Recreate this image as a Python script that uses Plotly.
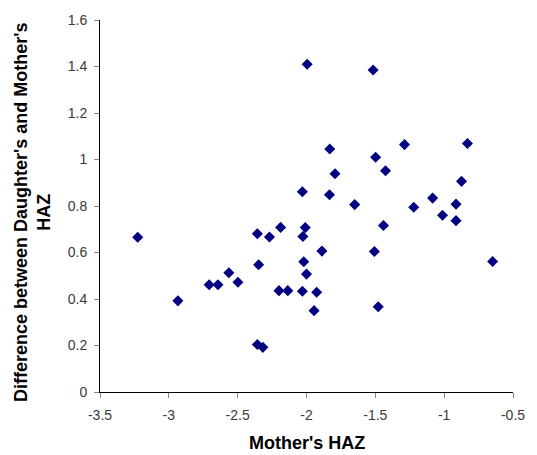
import plotly.graph_objects as go

mother_haz = [-3.226, -2.934, -2.707, -2.643, -2.564, -2.498, -2.357, -2.348, -2.269, -2.188,
              -2.200, -2.136, -2.357, -2.317, -2.030, -2.026, -2.009, -2.020, -2.000, -1.926,
              -1.945, -1.888, -2.030, -1.995, -1.516, -1.831, -1.498, -1.288, -0.831, -1.793,
              -1.426, -1.833, -0.874, -1.084, -1.650, -1.221, -0.914, -1.012, -0.914, -1.441,
              -1.507, -0.648, -1.479]
diff_haz = [0.666, 0.392, 0.461, 0.461, 0.513, 0.472, 0.681, 0.547, 0.667, 0.708,
            0.436, 0.436, 0.204, 0.192, 0.433, 0.669, 0.707, 0.560, 0.507, 0.429,
            0.350, 0.606, 0.861, 1.410, 1.385, 1.045, 1.010, 1.064, 1.069, 0.939,
            0.952, 0.848, 0.906, 0.834, 0.806, 0.795, 0.808, 0.760, 0.737, 0.716,
            0.604, 0.561, 0.367]

x_ticks = [-3.5, -3, -2.5, -2, -1.5, -1, -0.5]
y_ticks = [0, 0.2, 0.4, 0.6, 0.8, 1, 1.2, 1.4, 1.6]

fig = go.Figure()
fig.add_trace(go.Scatter(
    x=mother_haz, y=diff_haz, mode="markers",
    marker=dict(symbol="diamond", size=8.5, color="#000080", line=dict(width=0)),
    hoverinfo="x+y", showlegend=False,
))

tick_font = dict(family="Liberation Sans, Arial, sans-serif", size=14, color="#3a3a3a")
title_font = dict(family="Liberation Sans, Arial, sans-serif", size=18, color="#000000")

fig.update_layout(
    width=537, height=455,
    margin=dict(l=100, r=17, t=12, b=63),
    plot_bgcolor="white", paper_bgcolor="white",
    xaxis=dict(
        range=[-3.5, -0.5], tickvals=x_ticks, ticktext=[f"{v:g}" for v in x_ticks],
        showgrid=False, zeroline=False, showline=True, linecolor="#000000", linewidth=1,
        ticks="outside", ticklen=5, tickcolor="#888888", tickfont=tick_font,
        ticklabelstandoff=5,
    ),
    yaxis=dict(
        range=[0, 1.6], tickvals=y_ticks, ticktext=[f"{v:g}" for v in y_ticks],
        showgrid=False, zeroline=False, showline=True, linecolor="#000000", linewidth=1,
        ticks="outside", ticklen=5, tickcolor="#888888", tickfont=tick_font,
        ticklabelstandoff=4,
    ),
    annotations=[
        dict(text="<b>Mother's HAZ</b>", xref="paper", yref="paper", x=0.5, y=0,
             xanchor="center", yanchor="middle", yshift=-51, showarrow=False, font=title_font),
        dict(text="<b>Difference between Daughter's and Mother's<br>HAZ</b>", xref="paper", yref="paper",
             x=0, y=0.5, xanchor="center", yanchor="middle", xshift=-68, yshift=-6,
             textangle=-90, showarrow=False, font=title_font),
    ],
)

fig.write_html("out.html")
